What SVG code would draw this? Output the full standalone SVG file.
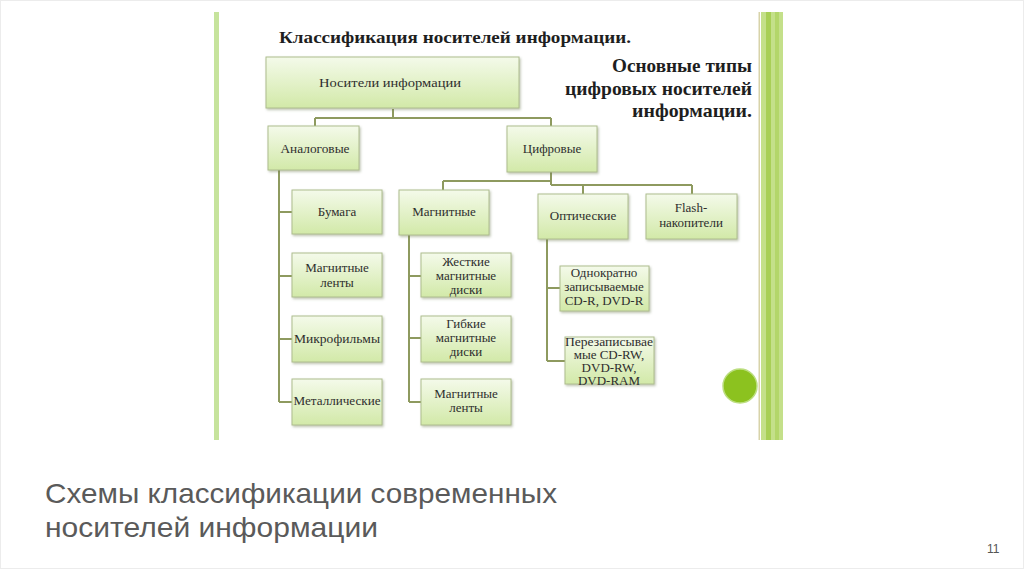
<svg xmlns="http://www.w3.org/2000/svg" width="1024" height="574" viewBox="0 0 1024 574">
  <defs>
    <linearGradient id="boxg" x1="0" y1="0" x2="0" y2="1">
      <stop offset="0" stop-color="#f4faea"/>
      <stop offset="1" stop-color="#d2e9a8"/>
    </linearGradient>
    <filter id="sh" x="-10%" y="-10%" width="125%" height="130%">
      <feDropShadow dx="1.2" dy="1.5" stdDeviation="1" flood-color="#6f7a55" flood-opacity="0.45"/>
    </filter>
    <style>
      .box { fill: url(#boxg); stroke: #aebd8e; stroke-width: 1; filter: url(#sh); }
      .t { font-family: "Liberation Serif", "DejaVu Serif", serif; font-size: 13px; fill: #2e2e2e; text-anchor: middle; }
      .h { font-family: "Liberation Serif", "DejaVu Serif", serif; font-size: 17px; font-weight: bold; fill: #1e1e1e; }
      .h2 { font-family: "Liberation Serif", "DejaVu Serif", serif; font-size: 19px; font-weight: bold; fill: #1e1e1e; text-anchor: end; }
      .c { fill: none; stroke: #8e9a5f; stroke-width: 2; }
      .cap { font-family: "Liberation Sans", Arial, sans-serif; font-size: 28px; fill: #5a5a5a; }
    </style>
  </defs>
  <rect x="0" y="0" width="1024" height="574" fill="#ffffff"/>
  <rect x="0.5" y="0.5" width="1023" height="568" fill="none" stroke="#ececec"/>

  <!-- picture frame decorations -->
  <rect x="214" y="12" width="5" height="428" fill="#c6e39c"/>
  <rect x="758.5" y="12" width="1.5" height="428" fill="#d8d3a9"/>
  <rect x="761" y="12" width="22" height="428" fill="#c4e08a"/>
  <rect x="766" y="12" width="5" height="428" fill="#a8cf56"/>
  <rect x="775" y="12" width="4" height="428" fill="#b3d66a"/>
  <circle cx="740" cy="386" r="17" fill="#8cc21f" stroke="#bcde80" stroke-width="1.5"/>

  <!-- headings -->
  <text class="h" x="279" y="43" textLength="352" lengthAdjust="spacingAndGlyphs">Классификация носителей информации.</text>
  <text class="h2" x="752" y="72" textLength="140" lengthAdjust="spacingAndGlyphs">Основные типы</text>
  <text class="h2" x="752" y="95" textLength="187" lengthAdjust="spacingAndGlyphs">цифровых носителей</text>
  <text class="h2" x="752" y="117" textLength="120" lengthAdjust="spacingAndGlyphs">информации.</text>

  <!-- connectors -->
  <g id="connectors">
    <path class="c" d="M393 109 V118 M315 118 H551 M315 118 V126 M551 118 V126"/>
    <path class="c" d="M279 170 V402 M279 212 H292 M279 276 H292 M279 339 H292 M279 402 H292"/>
    <path class="c" d="M551 172 V185 M443 181 H551 M443 181 V190 M551 185 H692 M583 185 V194 M692 185 V194"/>
    <path class="c" d="M409 235 V402 M409 276 H421 M409 338 H421 M409 402 H421"/>
    <path class="c" d="M547 239 V361 M547 288 H560 M547 361 H565"/>
  </g>

  <g id="n-root"><rect class="box" x="266" y="57" width="253" height="51"/><text class="t" x="390" y="87" textLength="142" lengthAdjust="spacingAndGlyphs">Носители информации</text></g>
  <g id="n-analog"><rect class="box" x="268" y="126" width="91" height="44"/><text class="t" x="315" y="153" textLength="69" lengthAdjust="spacingAndGlyphs">Аналоговые</text></g>
  <g id="n-digital"><rect class="box" x="507" y="126" width="90" height="46"/><text class="t" x="552" y="153">Цифровые</text></g>

  <g id="n-paper"><rect class="box" x="292" y="190" width="90" height="44"/><text class="t" x="337" y="216">Бумага</text></g>
  <g id="n-tape1"><rect class="box" x="292" y="253" width="90" height="44"/><text class="t" x="337" y="272">Магнитные</text><text class="t" x="337" y="287">ленты</text></g>
  <g id="n-micro"><rect class="box" x="292" y="316" width="90" height="46"/><text class="t" x="337" y="343" textLength="86" lengthAdjust="spacingAndGlyphs">Микрофильмы</text></g>
  <g id="n-metal"><rect class="box" x="292" y="379" width="90" height="46"/><text class="t" x="337" y="405" textLength="87" lengthAdjust="spacingAndGlyphs">Металлические</text></g>

  <g id="n-magn"><rect class="box" x="399" y="190" width="90" height="45"/><text class="t" x="444" y="216">Магнитные</text></g>
  <g id="n-hdd"><rect class="box" x="421" y="253" width="90" height="44"/><text class="t" x="466" y="266">Жесткие</text><text class="t" x="466" y="280">магнитные</text><text class="t" x="466" y="294">диски</text></g>
  <g id="n-fdd"><rect class="box" x="421" y="316" width="90" height="46"/><text class="t" x="466" y="328">Гибкие</text><text class="t" x="466" y="342">магнитные</text><text class="t" x="466" y="356">диски</text></g>
  <g id="n-tape2"><rect class="box" x="421" y="379" width="90" height="46"/><text class="t" x="466" y="398">Магнитные</text><text class="t" x="466" y="412">ленты</text></g>

  <g id="n-optic"><rect class="box" x="538" y="194" width="90" height="45"/><text class="t" x="583" y="220">Оптические</text></g>
  <g id="n-flash"><rect class="box" x="646" y="194" width="91" height="45"/><text class="t" x="691" y="212">Flash-</text><text class="t" x="691" y="227">накопители</text></g>

  <g id="n-cdr"><rect class="box" x="560" y="266" width="89" height="45"/><text class="t" x="604" y="277">Однократно</text><text class="t" x="604" y="291">записываемые</text><text class="t" x="604" y="305">CD-R, DVD-R</text></g>
  <g id="n-cdrw"><rect class="box" x="565" y="337" width="89" height="47"/><text class="t" x="609" y="346" textLength="88" lengthAdjust="spacingAndGlyphs">Перезаписывае</text><text class="t" x="609" y="359">мые CD-RW,</text><text class="t" x="609" y="372">DVD-RW,</text><text class="t" x="609" y="385">DVD-RAM</text></g>

  <!-- caption -->
  <text class="cap" x="45" y="503" textLength="512" lengthAdjust="spacingAndGlyphs">Схемы классификации современных</text>
  <text class="cap" x="45" y="537" textLength="333" lengthAdjust="spacingAndGlyphs">носителей информации</text>
  <text x="987" y="553" font-family="Liberation Sans, Arial, sans-serif" font-size="12" fill="#555555">11</text>
</svg>
